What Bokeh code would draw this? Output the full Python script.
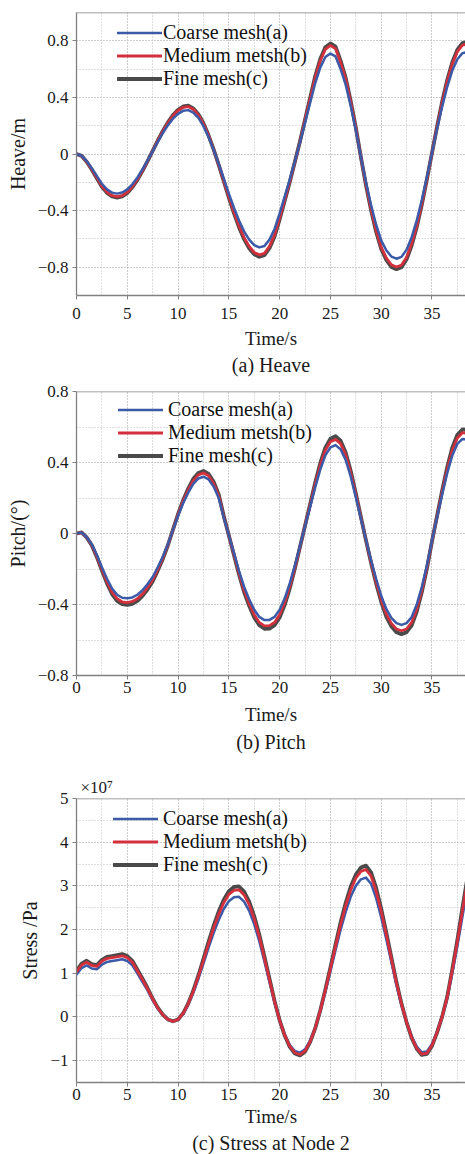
from bokeh.plotting import figure
from bokeh.layouts import column
from bokeh.models import (Range1d, FixedTicker, CustomJSTickFormatter, Legend,
                          LegendItem, Span, Title)
from bokeh.embed import file_html
from bokeh.resources import INLINE

# ---------------- data ----------------
time_s = [0, 0.5, 1, 1.5, 2, 2.5, 3, 3.5, 4, 4.5,
          5, 5.5, 6, 6.5, 7, 7.5, 8, 8.5, 9, 9.5,
          10, 10.5, 11, 11.5, 12, 12.5, 13, 13.5, 14, 14.5,
          15, 15.5, 16, 16.5, 17, 17.5, 18, 18.5, 19, 19.5,
          20, 20.5, 21, 21.5, 22, 22.5, 23, 23.5, 24, 24.5,
          25, 25.5, 26, 26.5, 27, 27.5, 28, 28.5, 29, 29.5,
          30, 30.5, 31, 31.5, 32, 32.5, 33, 33.5, 34, 34.5,
          35, 35.5, 36, 36.5, 37, 37.5, 38, 38.5]

heave_coarse = [0, -0.012, -0.05, -0.10, -0.155, -0.21, -0.25, -0.273, -0.28, -0.272,
                -0.25, -0.214, -0.166, -0.108, -0.045, 0.02, 0.085, 0.148, 0.203, 0.25,
                0.284, 0.305, 0.31, 0.293, 0.255, 0.197, 0.12, 0.03, -0.07, -0.175,
                -0.28, -0.38, -0.47, -0.547, -0.605, -0.644, -0.66, -0.65, -0.605, -0.53,
                -0.42, -0.30, -0.18, -0.05, 0.08, 0.22, 0.36, 0.50, 0.61, 0.685,
                0.71, 0.69, 0.60, 0.49, 0.34, 0.17, -0.02, -0.20, -0.36, -0.50,
                -0.61, -0.68, -0.725, -0.74, -0.727, -0.676, -0.588, -0.469, -0.325, -0.163,
                0.007, 0.176, 0.335, 0.475, 0.59, 0.67, 0.713, 0.72]
heave_medium = [0, -0.013, -0.054, -0.108, -0.167, -0.227, -0.27, -0.295, -0.302, -0.294,
                -0.27, -0.231, -0.179, -0.117, -0.049, 0.022, 0.092, 0.16, 0.219, 0.27,
                0.307, 0.329, 0.335, 0.316, 0.275, 0.213, 0.13, 0.032, -0.076, -0.189,
                -0.302, -0.41, -0.508, -0.591, -0.653, -0.696, -0.713, -0.702, -0.653, -0.572,
                -0.454, -0.324, -0.194, -0.054, 0.086, 0.238, 0.389, 0.54, 0.659, 0.74,
                0.767, 0.745, 0.648, 0.529, 0.367, 0.184, -0.022, -0.216, -0.389, -0.54,
                -0.659, -0.734, -0.783, -0.799, -0.785, -0.73, -0.635, -0.507, -0.351, -0.176,
                0.008, 0.19, 0.362, 0.513, 0.637, 0.724, 0.77, 0.778]
heave_fine = [0, -0.013, -0.055, -0.11, -0.171, -0.231, -0.275, -0.30, -0.308, -0.299,
              -0.275, -0.235, -0.183, -0.119, -0.05, 0.022, 0.094, 0.163, 0.223, 0.275,
              0.312, 0.336, 0.341, 0.322, 0.281, 0.217, 0.132, 0.033, -0.077, -0.193,
              -0.308, -0.418, -0.517, -0.602, -0.666, -0.708, -0.726, -0.715, -0.666, -0.583,
              -0.462, -0.33, -0.198, -0.055, 0.088, 0.242, 0.396, 0.55, 0.671, 0.754,
              0.781, 0.759, 0.66, 0.539, 0.374, 0.187, -0.022, -0.22, -0.396, -0.55,
              -0.671, -0.748, -0.798, -0.814, -0.80, -0.744, -0.647, -0.516, -0.358, -0.179,
              0.008, 0.194, 0.369, 0.523, 0.649, 0.737, 0.784, 0.792]

pitch_coarse = [0, 0.005, -0.02, -0.06, -0.12, -0.19, -0.255, -0.31, -0.345, -0.362,
                -0.365, -0.36, -0.345, -0.32, -0.285, -0.245, -0.19, -0.13, -0.06, 0.02,
                0.10, 0.17, 0.23, 0.28, 0.31, 0.32, 0.305, 0.265, 0.2, 0.09,
                -0.01, -0.11, -0.21, -0.30, -0.37, -0.43, -0.47, -0.488, -0.487, -0.47,
                -0.43, -0.365, -0.28, -0.18, -0.07, 0.04, 0.15, 0.26, 0.36, 0.44,
                0.485, 0.498, 0.475, 0.415, 0.32, 0.205, 0.085, -0.035, -0.15, -0.255,
                -0.35, -0.425, -0.475, -0.505, -0.515, -0.505, -0.47, -0.40, -0.30, -0.18,
                -0.04, 0.09, 0.22, 0.34, 0.44, 0.505, 0.533, 0.53]
pitch_medium = [0, 0.005, -0.021, -0.064, -0.128, -0.202, -0.272, -0.33, -0.367, -0.386,
                -0.389, -0.383, -0.367, -0.341, -0.304, -0.261, -0.202, -0.138, -0.064, 0.021,
                0.107, 0.181, 0.245, 0.298, 0.33, 0.341, 0.325, 0.282, 0.213, 0.096,
                -0.011, -0.117, -0.224, -0.32, -0.394, -0.458, -0.501, -0.52, -0.519, -0.501,
                -0.458, -0.389, -0.298, -0.192, -0.075, 0.043, 0.16, 0.277, 0.383, 0.469,
                0.517, 0.53, 0.506, 0.442, 0.341, 0.218, 0.091, -0.037, -0.16, -0.272,
                -0.373, -0.453, -0.506, -0.538, -0.548, -0.538, -0.501, -0.426, -0.32, -0.192,
                -0.043, 0.096, 0.234, 0.362, 0.469, 0.538, 0.568, 0.564]
pitch_fine = [0, 0.006, -0.022, -0.066, -0.132, -0.209, -0.281, -0.341, -0.38, -0.398,
              -0.402, -0.396, -0.38, -0.352, -0.314, -0.27, -0.209, -0.143, -0.066, 0.022,
              0.11, 0.187, 0.253, 0.308, 0.341, 0.352, 0.336, 0.292, 0.22, 0.099,
              -0.011, -0.121, -0.231, -0.33, -0.407, -0.473, -0.517, -0.537, -0.536, -0.517,
              -0.473, -0.402, -0.308, -0.198, -0.077, 0.044, 0.165, 0.286, 0.396, 0.484,
              0.534, 0.548, 0.523, 0.457, 0.352, 0.226, 0.094, -0.039, -0.165, -0.281,
              -0.385, -0.468, -0.523, -0.556, -0.567, -0.556, -0.517, -0.44, -0.33, -0.198,
              -0.044, 0.099, 0.242, 0.374, 0.484, 0.556, 0.586, 0.583]

# stress in units of 1e7 Pa
stress_coarse = [0.97, 1.12, 1.18, 1.11, 1.09, 1.2, 1.26, 1.28, 1.30, 1.32,
                 1.28, 1.18, 0.99, 0.8, 0.6, 0.38, 0.19, 0.04, -0.06, -0.1,
                 -0.06, 0.07, 0.28, 0.55, 0.87, 1.22, 1.58, 1.92, 2.22, 2.47,
                 2.65, 2.74, 2.75, 2.64, 2.43, 2.12, 1.73, 1.27, 0.8, 0.33,
                 -0.08, -0.4, -0.64, -0.78, -0.82, -0.74, -0.54, -0.25, 0.13, 0.57,
                 1.04, 1.52, 1.99, 2.4, 2.75, 3.0, 3.15, 3.19, 3.05, 2.72,
                 2.28, 1.78, 1.25, 0.73, 0.27, -0.12, -0.45, -0.68, -0.81, -0.79,
                 -0.62, -0.34, 0.0, 0.42, 1.0, 1.62, 2.3, 2.95]
stress_medium = [1.03, 1.19, 1.252, 1.178, 1.157, 1.273, 1.336, 1.357, 1.378, 1.4,
                 1.357, 1.252, 1.051, 0.85, 0.639, 0.407, 0.206, 0.048, -0.058, -0.1,
                 -0.058, 0.08, 0.301, 0.586, 0.924, 1.294, 1.674, 2.033, 2.35, 2.614,
                 2.804, 2.899, 2.91, 2.793, 2.572, 2.244, 1.833, 1.347, 0.85, 0.354,
                 -0.079, -0.417, -0.67, -0.818, -0.86, -0.776, -0.565, -0.258, 0.143, 0.608,
                 1.104, 1.611, 2.107, 2.54, 2.91, 3.174, 3.332, 3.374, 3.226, 2.878,
                 2.413, 1.885, 1.326, 0.777, 0.291, -0.121, -0.47, -0.712, -0.85, -0.829,
                 -0.649, -0.354, 0.006, 0.449, 1.062, 1.716, 2.434, 3.121]
stress_fine = [1.059, 1.221, 1.286, 1.21, 1.189, 1.308, 1.373, 1.394, 1.416, 1.438,
               1.394, 1.286, 1.08, 0.875, 0.658, 0.42, 0.214, 0.052, -0.057, -0.1,
               -0.057, 0.084, 0.312, 0.604, 0.95, 1.33, 1.719, 2.088, 2.413, 2.683,
               2.878, 2.976, 2.987, 2.867, 2.64, 2.304, 1.882, 1.384, 0.875, 0.366,
               -0.078, -0.425, -0.685, -0.836, -0.88, -0.793, -0.577, -0.262, 0.149, 0.626,
               1.135, 1.654, 2.163, 2.608, 2.987, 3.257, 3.42, 3.463, 3.311, 2.954,
               2.478, 1.936, 1.362, 0.799, 0.301, -0.122, -0.479, -0.728, -0.869, -0.847,
               -0.663, -0.36, 0.008, 0.463, 1.091, 1.763, 2.499, 3.203]

series_labels = ["Coarse mesh(a)", "Medium metsh(b)", "Fine mesh(c)"]

x_ticks = [0, 5, 10, 15, 20, 25, 30, 35]
x_minor = [0, 2.5, 5, 7.5, 10, 12.5, 15, 17.5, 20, 22.5, 25, 27.5, 30, 32.5, 35, 37.5]
heave_ticks = [-0.8, -0.4, 0, 0.4, 0.8]
heave_minor = [-1.0, -0.8, -0.6, -0.4, -0.2, 0, 0.2, 0.4, 0.6, 0.8, 1.0]
pitch_ticks = [-0.8, -0.4, 0, 0.4, 0.8]
pitch_minor = [-0.8, -0.6, -0.4, -0.2, 0, 0.2, 0.4, 0.6, 0.8]
stress_ticks = [-1, 0, 1, 2, 3, 4, 5]
stress_minor = [-1.5, -1, -0.5, 0, 0.5, 1, 1.5, 2, 2.5, 3, 3.5, 4, 4.5, 5]

# ---------------- style ----------------
FONT = "Liberation Serif"
C_BLUE = "#3b5ba9"
C_RED = "#d3303d"
C_GRAY = "#4a4a4a"
AX = "#808080"
GRID = "#bdbdbd"

fmt_code = """
if (Math.abs(tick) < 1e-9) { return "0"; }
const a = parseFloat(Math.abs(tick).toFixed(3)).toString();
return (tick < 0 ? "\\u2212" : "") + a;
"""


def make_panel(yc, ym, yf, y_lo, y_hi, yt, ymin, ylabel, caption,
               height, b_top, b_bottom, leg_x, leg_top, leg_standoff,
               xlab_so, xaxis_so, cap_so, order):
    frame_h = height - b_top - b_bottom
    p = figure(width=465, height=height,
               x_range=Range1d(0, 38.3), y_range=Range1d(y_lo, y_hi),
               output_backend="svg", toolbar_location=None,
               min_border_left=76, min_border_right=0,
               min_border_top=b_top, min_border_bottom=b_bottom)
    p.outline_line_color = None
    p.background_fill_color = "white"
    p.border_fill_color = "white"

    xt = FixedTicker(ticks=x_ticks, minor_ticks=x_minor)
    ytk = FixedTicker(ticks=yt, minor_ticks=ymin)
    p.xaxis.ticker = xt
    p.yaxis.ticker = ytk
    p.xgrid.ticker = xt
    p.ygrid.ticker = ytk
    p.yaxis.formatter = CustomJSTickFormatter(code=fmt_code)
    p.xaxis.formatter = CustomJSTickFormatter(code=fmt_code)

    for g in (p.xgrid, p.ygrid):
        g.grid_line_color = GRID
        g.grid_line_dash = "1 2"
        g.grid_line_width = 1
        g.minor_grid_line_color = GRID
        g.minor_grid_line_dash = "1 2"
        g.minor_grid_line_width = 1

    for ax in (p.xaxis, p.yaxis):
        ax.axis_line_color = AX
        ax.axis_line_width = 1.3
        ax.major_tick_line_color = AX
        ax.major_tick_out = 4
        ax.major_tick_in = 0
        ax.minor_tick_line_color = None
        ax.major_label_text_font = FONT
        ax.major_label_text_font_size = "17px"
        ax.major_label_text_color = "#1a1a1a"
        ax.axis_label_text_font = FONT
        ax.axis_label_text_font_style = "normal"
        ax.axis_label_text_color = "#1a1a1a"

    p.xaxis.axis_label = "Time/s"
    p.xaxis.axis_label_text_font_size = "19px"
    p.xaxis.major_label_standoff = xaxis_so
    p.xaxis.axis_label_standoff = xlab_so
    p.yaxis.axis_label = ylabel
    p.yaxis.axis_label_text_font_size = "20px"
    p.yaxis.major_label_standoff = 4
    p.yaxis.axis_label_standoff = 6

    p.add_layout(Span(location=y_hi, dimension="width", line_color=AX,
                      line_width=1.3))

    rs = {}
    spec = {"f": (yf, C_GRAY, 3.8), "m": (ym, C_RED, 2.8), "c": (yc, C_BLUE, 2.5)}
    for key in order:
        ys, col, w = spec[key]
        rs[key] = p.line(time_s, ys, line_color=col, line_width=w,
                         line_join="round", line_cap="round")

    legend = Legend(items=[LegendItem(label=series_labels[0], renderers=[rs["c"]]),
                           LegendItem(label=series_labels[1], renderers=[rs["m"]]),
                           LegendItem(label=series_labels[2], renderers=[rs["f"]])],
                    location=(leg_x, frame_h - leg_top - 69))
    legend.label_text_font = FONT
    legend.label_text_font_size = "20px"
    legend.label_text_color = "#111111"
    legend.glyph_width = 45
    legend.glyph_height = 23
    legend.label_height = 23
    legend.label_standoff = leg_standoff
    legend.spacing = 0
    legend.padding = 0
    legend.margin = 0
    legend.border_line_color = None
    legend.background_fill_alpha = 0
    p.add_layout(legend)

    cap = Title(text=caption, align="center", text_font=FONT,
                text_font_size="20px", text_font_style="normal",
                text_color="#1a1a1a", standoff=cap_so)
    p.add_layout(cap, "below")
    return p


p1 = make_panel(heave_coarse, heave_medium, heave_fine, -1.0, 1.0,
                heave_ticks, heave_minor, "Heave/m", "(a) Heave",
                380, 12, 85, 41, 8.5, 1, 6, 8, 0, ["f", "m", "c"])
p2 = make_panel(pitch_coarse, pitch_medium, pitch_fine, -0.8, 0.8,
                pitch_ticks, pitch_minor, "Pitch/(°)", "(b) Pitch",
                380, 11, 85, 42, 7, 5, 8, 2, 2, ["f", "m", "c"])
p3 = make_panel(stress_coarse, stress_medium, stress_fine, -1.5, 5.0,
                stress_ticks, stress_minor, "Stress /Pa", "(c) Stress at Node 2",
                394, 38, 72, 37, 9, 5, 3, 2, 1, ["f", "c", "m"])

p3.add_layout(Title(text="×10⁷", align="left", offset=4, standoff=4,
                    text_font=FONT, text_font_size="17px",
                    text_font_style="normal", text_color="#1a1a1a"), "above")

layout = column(p1, p2, p3, spacing=0)
open("out.html", "w").write(file_html(layout, INLINE))
